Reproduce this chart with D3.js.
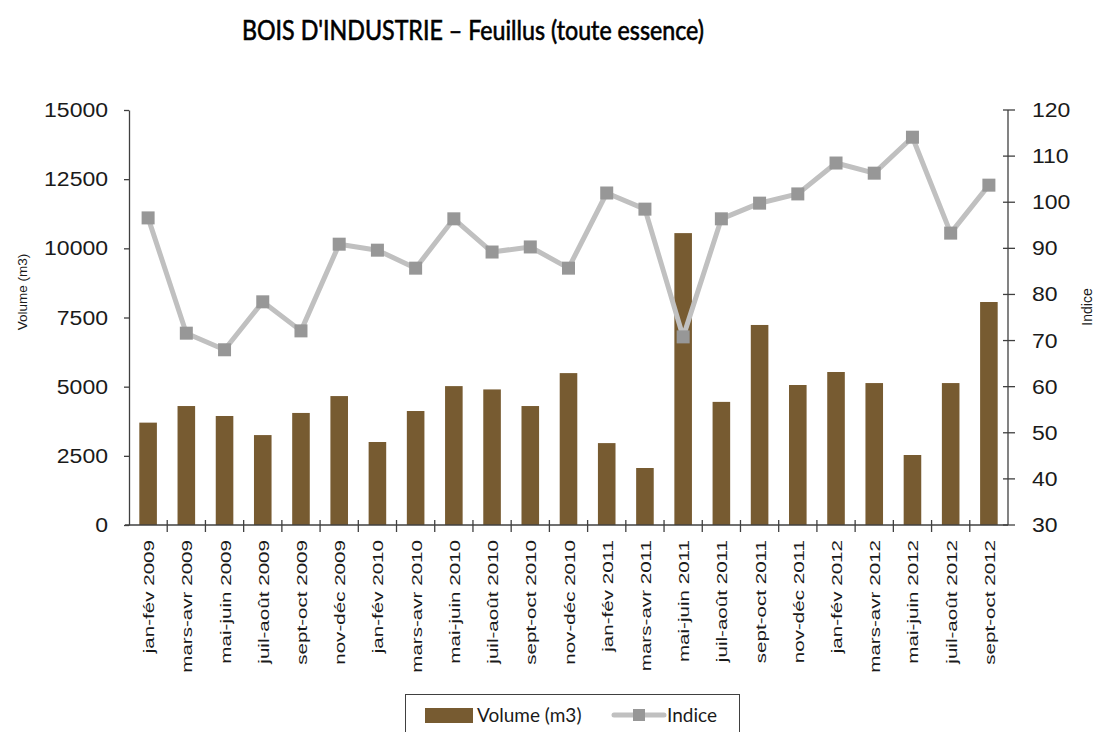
<!DOCTYPE html>
<html>
<head>
<meta charset="utf-8">
<script src="https://cdn.jsdelivr.net/npm/d3@7"></script>
<style>
  body { margin: 0; background: #fff; }
  svg { display: block; }
</style>
</head>
<body>
<div id="chart"></div>
<script>
// periods on the x axis
var categories = ["jan-fév 2009", "mars-avr 2009", "mai-juin 2009", "juil-août 2009",
    "sept-oct 2009", "nov-déc 2009", "jan-fév 2010", "mars-avr 2010", "mai-juin 2010",
    "juil-août 2010", "sept-oct 2010", "nov-déc 2010", "jan-fév 2011", "mars-avr 2011",
    "mai-juin 2011", "juil-août 2011", "sept-oct 2011", "nov-déc 2011", "jan-fév 2012",
    "mars-avr 2012", "mai-juin 2012", "juil-août 2012", "sept-oct 2012"];

// volume (m3), bars on left axis
var volume = [3700, 4300, 3940, 3250, 4050, 4660, 3000, 4120, 5020, 4900, 4300, 5490,
    2960, 2060, 10550, 4450, 7230, 5060, 5530, 5130, 2530, 5130, 8060];

// indice, line on right axis
var indice = [96.6, 71.6, 68, 78.4, 72.1, 90.9, 89.6, 85.7, 96.4, 89.2, 90.3, 85.7,
    102, 98.5, 70.8, 96.4, 99.8, 101.8, 108.5, 106.3, 114.1, 93.3, 103.7];

var leftTicks = [0, 2500, 5000, 7500, 10000, 12500, 15000];
var rightTicks = [30, 40, 50, 60, 70, 80, 90, 100, 110, 120];

var W = 1095, H = 732;
var plotLeft = 129, plotRight = 1008, plotTop = 110, plotBottom = 525;
var axisColor = "#404040";

var svg = d3.select("#chart").append("svg")
    .attr("width", W).attr("height", H);

var x = d3.scaleBand().domain(categories).range([plotLeft, plotRight])
    .paddingInner(0.54).paddingOuter(0.27);
var yL = d3.scaleLinear().domain([0, 15000]).range([plotBottom, plotTop]);
var yR = d3.scaleLinear().domain([30, 120]).range([plotBottom, plotTop]);
var step = x.step();

    // title
svg.append("text")
    .attr("x", 242).attr("y", 40)
    .attr("textLength", 462).attr("lengthAdjust", "spacingAndGlyphs")
    .style("font-family", "Lato, sans-serif")
    .style("font-size", "26px")
    .style("fill", "#000")
    .style("stroke", "#000").style("stroke-width", 0.6)
    .text("BOIS D'INDUSTRIE – Feuillus (toute essence)");

    // bars
svg.append("g").selectAll("rect").data(volume).enter().append("rect")
    .attr("x", function(d, i) { return x(categories[i]); })
    .attr("y", function(d) { return yL(d); })
    .attr("width", x.bandwidth())
    .attr("height", function(d) { return yL(0) - yL(d); })
    .style("fill", "#775b31");

    // index line
var line = d3.line()
    .x(function(d, i) { return x(categories[i]) + x.bandwidth() / 2; })
    .y(function(d) { return yR(d); });

svg.append("path").datum(indice)
    .attr("d", line)
    .style("fill", "none")
    .style("stroke", "#c0c0c0")
    .style("stroke-width", 5)
    .style("stroke-linejoin", "round");

svg.append("g").selectAll("rect").data(indice).enter().append("rect")
    .attr("x", function(d, i) { return x(categories[i]) + x.bandwidth() / 2 - 6.5; })
    .attr("y", function(d) { return yR(d) - 6.5; })
    .attr("width", 13).attr("height", 13)
    .style("fill", "#979797");

    // left axis
var gL = svg.append("g").attr("transform", "translate(" + plotLeft + ",0)")
    .call(d3.axisLeft(yL).tickValues(leftTicks).tickSize(5).tickSizeOuter(0).tickFormat(""));
gL.selectAll("line,path").style("stroke", axisColor).style("stroke-width", 1.3);

svg.append("g").selectAll("text").data(leftTicks).enter().append("text")
    .attr("transform", function(d) { return "translate(108," + (yL(d) + 7) + ") scale(1.18,1)"; })
    .attr("text-anchor", "end")
    .style("font-family", "'Liberation Sans', Arial, sans-serif")
    .style("font-size", "19.5px")
    .style("fill", "#1a1a1a")
    .text(function(d) { return d; });

    // right axis with crossing ticks
svg.append("line")
    .attr("x1", plotRight).attr("x2", plotRight).attr("y1", yR(30)).attr("y2", yR(120))
    .style("stroke", axisColor).style("stroke-width", 1.3);
svg.append("g").selectAll("line").data(rightTicks).enter().append("line")
    .attr("x1", plotRight - 5).attr("x2", plotRight + 7)
    .attr("y1", function(d) { return yR(d); })
    .attr("y2", function(d) { return yR(d); })
    .style("stroke", axisColor).style("stroke-width", 1.3);

svg.append("g").selectAll("text").data(rightTicks).enter().append("text")
    .attr("transform", function(d) { return "translate(1032," + (yR(d) + 7) + ") scale(1.18,1)"; })
    .style("font-family", "'Liberation Sans', Arial, sans-serif")
    .style("font-size", "19.5px")
    .style("fill", "#1a1a1a")
    .text(function(d) { return d; });

    // x axis, ticks on band edges
svg.append("line")
    .attr("x1", plotLeft - 4).attr("x2", plotRight).attr("y1", plotBottom).attr("y2", plotBottom)
    .style("stroke", axisColor).style("stroke-width", 1.3);
svg.append("g").selectAll("line").data(categories.slice(1)).enter().append("line")
    .attr("x1", function(d) { return x(d) - step * 0.27; })
    .attr("x2", function(d) { return x(d) - step * 0.27; })
    .attr("y1", plotBottom - 5).attr("y2", plotBottom + 7)
    .style("stroke", axisColor).style("stroke-width", 1.3);

svg.append("g").selectAll("text").data(categories).enter().append("text")
    .attr("transform", function(d) {
        return "translate(" + (x(d) + x.bandwidth() / 2 + 6) + ",540) rotate(-90) scale(1.33,1)";
    })
    .attr("text-anchor", "end")
    .style("font-family", "'Liberation Sans', Arial, sans-serif")
    .style("font-size", "15.5px")
    .style("fill", "#1a1a1a")
    .text(function(d) { return d; });

    // axis titles
svg.append("text")
    .attr("transform", "translate(27,292) rotate(-90)")
    .attr("text-anchor", "middle")
    .style("font-family", "'Liberation Sans', Arial, sans-serif")
    .style("font-size", "13.5px")
    .style("fill", "#1a1a1a")
    .text("Volume (m3)");

svg.append("text")
    .attr("transform", "translate(1092,307) rotate(-90)")
    .attr("text-anchor", "middle")
    .style("font-family", "'Liberation Sans', Arial, sans-serif")
    .style("font-size", "14px")
    .style("fill", "#1a1a1a")
    .text("Indice");

    // legend
var lg = svg.append("g");
lg.append("rect")
    .attr("x", 405.5).attr("y", 694.5).attr("width", 334).attr("height", 60)
    .style("fill", "#fff").style("stroke", "#404040").style("stroke-width", 1);
lg.append("rect")
    .attr("x", 425).attr("y", 708).attr("width", 48).attr("height", 15)
    .style("fill", "#775b31");
lg.append("text")
    .attr("x", 477).attr("y", 722)
    .style("font-family", "Lato, sans-serif").style("font-size", "19px")
    .style("fill", "#1a1a1a")
    .text("Volume (m3)");
lg.append("line")
    .attr("x1", 614).attr("x2", 664).attr("y1", 715).attr("y2", 715)
    .style("stroke", "#c0c0c0").style("stroke-width", 5).style("stroke-linecap", "round");
lg.append("rect")
    .attr("x", 633).attr("y", 709).attr("width", 12).attr("height", 12)
    .style("fill", "#979797");
lg.append("text")
    .attr("x", 667).attr("y", 722)
    .style("font-family", "Lato, sans-serif").style("font-size", "19px")
    .style("fill", "#1a1a1a")
    .text("Indice");
</script>
</body>
</html>
